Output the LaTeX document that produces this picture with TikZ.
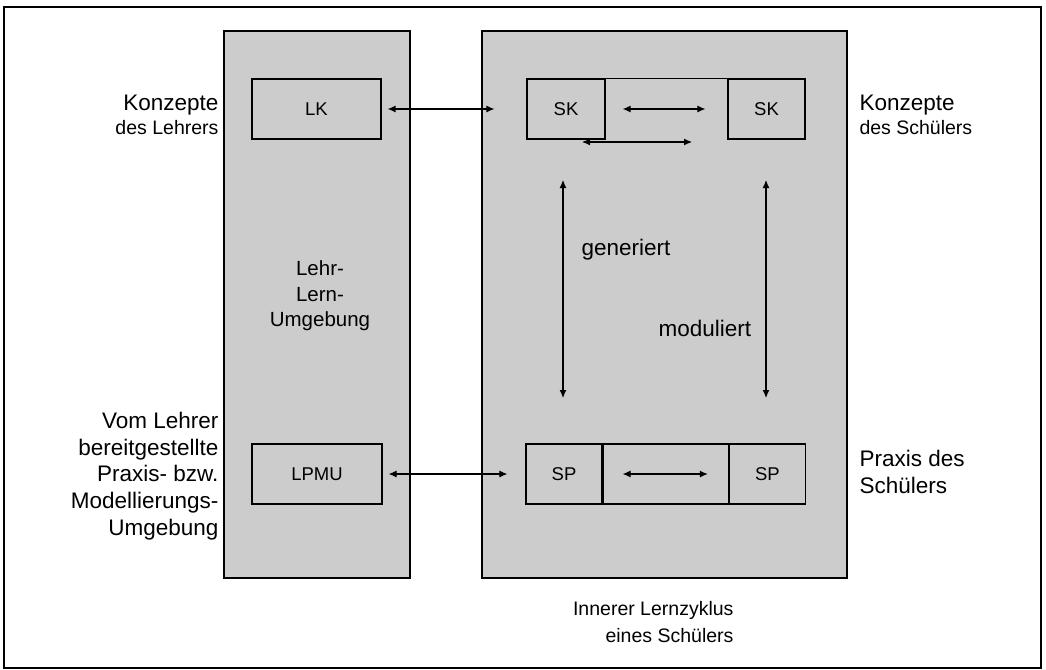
\documentclass[tikz,border=0pt]{standalone}
\usepackage{fontspec}
\setmainfont{Liberation Sans}
\usepackage{tikz}
\usetikzlibrary{arrows.meta}
\usetikzlibrary{positioning}

\definecolor{panelgray}{HTML}{CCCCCC}
\newcommand\bigtxt{\fontsize{22.5}{26.7}\selectfont}
\newcommand\midtxt{\fontsize{19.5}{26.7}\selectfont}

\begin{document}
\begin{tikzpicture}[x=1pt,y=-1pt,
  every node/.style={font=\fontsize{18.5}{26.5}\selectfont},
  panel/.style={draw,line width=1.2pt,fill=panelgray,minimum height=547pt},
  box/.style={draw,line width=1.2pt,minimum height=60pt},
  link/.style={line width=1.1pt,{Latex[length=8pt,width=7pt]}-{Latex[length=8pt,width=7pt]}}]
\useasboundingbox (0,0) rectangle (1046,669);
\draw[line width=1.2pt] (4,7) rectangle (1041,668);

% the two grey columns
\node[panel,minimum width=186pt] (lern) at (317,304.5) {};
\node[panel,minimum width=365pt] (zyklus) at (664.5,304.5) {};

% concepts (top row)
\node[box,minimum width=129pt] (lk) at (316.5,109) {LK};
\node[box,minimum width=78pt] (sk1) at (566,109) {SK};
\node[box,minimum width=77pt] (sk2) at (766.5,109) {SK};
\draw[line width=1.2pt] (sk1.north east) -- (sk2.north west);

% practice (bottom row)
\node[box,minimum width=130pt] (lpmu) at (317,474) {LPMU};
\node[box,minimum width=76pt] (sp1) at (564,474) {SP};
\node[box,minimum width=125pt,anchor=west] (spm) at (sp1.east) {};
\node[box,minimum width=76pt,anchor=west] (sp2) at (spm.east) {SP};

\coordinate (lowA) at (582,142);
\coordinate (lowB) at (692,142);
\coordinate (genT) at (563,180);
\coordinate (genB) at (563,398);
\coordinate (modT) at (766,180);
\coordinate (modB) at (766,398);

\draw[link] ([xshift=6pt]lk.east) -- ([xshift=-32pt]sk1.west);
\draw[link] ([xshift=17pt]sk1.east) -- ([xshift=-22pt]sk2.west);
\draw[link] (lowA) -- (lowB);
\draw[link] ([xshift=6pt]lpmu.east) -- ([xshift=-18pt]sp1.west);
\draw[link] ([xshift=20pt]spm.west) -- ([xshift=-21pt]spm.east);
\draw[link] (genT) -- (genB);
\draw[link] (modT) -- (modB);

\node[anchor=west,font=\bigtxt] (gen) at (578,250) {generiert};
\node[anchor=west,font=\bigtxt] (mod) at (655,328) {moduliert};

% side labels
\node[anchor=east,align=right] (kl) at (222,115)
  {{\bigtxt Konzepte}\\[-3pt]{\midtxt des Lehrers}};
\node[align=center,font=\fontsize{20.5}{25.5}\selectfont] (llu) at (320,296)
  {Lehr-\\Lern-\\Umgebung};
\node[anchor=east,align=right,font=\bigtxt] (vl) at (222,476)
  {Vom Lehrer\\bereitgestellte\\Praxis- bzw.\\Modellierungs-\\Umgebung};
\node[anchor=west,align=left] (ks) at (856,115)
  {{\bigtxt Konzepte}\\[-3pt]{\midtxt des Schülers}};
\node[anchor=west,align=left,font=\bigtxt] (ps) at (856,472) {Praxis des\\Schülers};
\node[anchor=east,align=right,font=\midtxt] (iz) at (737,622)
  {Innerer Lernzyklus\\eines Schülers};
\end{tikzpicture}
\end{document}
